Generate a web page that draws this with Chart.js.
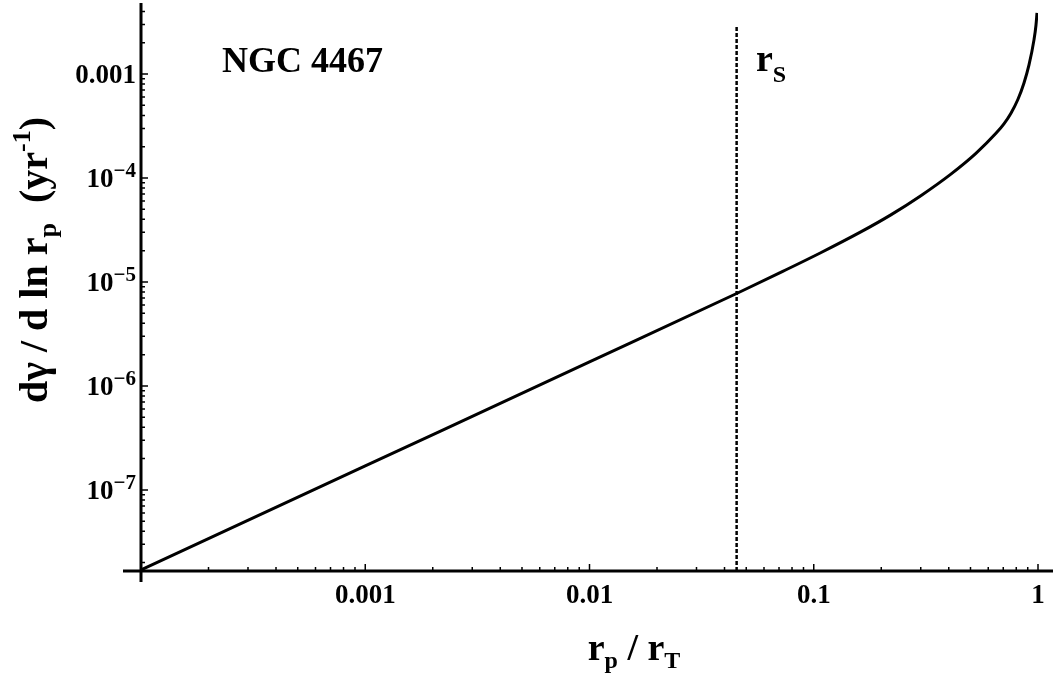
<!DOCTYPE html>
<html>
<head>
<meta charset="utf-8">
<script src="https://cdn.jsdelivr.net/npm/chart.js@4"></script>
<style>
  html, body { margin: 0; padding: 0; background: #fff; }
  canvas { display: block; }
</style>
</head>
<body>
<canvas id="c" width="1053" height="679"></canvas>
<script>
// values
const rpOverRt = [1e-4, 1e-3, 0.01, 0.0458, 0.0712, 0.1074, 0.1621, 0.2207, 0.3003, 0.4089, 0.5286, 0.6494, 0.7049, 0.7576, 0.8141, 0.866, 0.9117, 0.9596, 0.9797, 0.9897];
const dGammaDlnRp = [1.7e-8, 1.7e-7, 1.7e-6, 7.83e-6, 1.236e-5, 1.91e-5, 3.03e-5, 4.42e-5, 6.76e-5, 1.09e-4, 1.726e-4, 2.69e-4, 3.32e-4, 4.20e-4, 5.72e-4, 8.21e-4, 1.223e-3, 2.13e-3, 2.96e-3, 3.87e-3];

// r_S marker (vertical dotted line)
const rsX = [0.0453, 0.0453];
const rsY = [1.66e-8, 2.83e-3];

const xRange = [1e-4, 1];
const yRange = [1.66e-8, 4.82e-3];

const xTickValues = [0.001, 0.01, 0.1, 1];
const xTickLabels = ['0.001', '0.01', '0.1', '1'];
const yTickValues = [1e-3, 1e-4, 1e-5, 1e-6, 1e-7];
const yTickLabels = [['0.001', ''], ['10', '\u22124'], ['10', '\u22125'], ['10', '\u22126'], ['10', '\u22127']];

const FONT = '"Liberation Serif", "Times New Roman", serif';

function font(size) { return 'bold ' + size + 'px ' + FONT; }

// text runs [{t, size, dy}] for sub/superscripts
function richWidth(ctx, parts) {
    let w = 0;
    parts.forEach(p => { ctx.font = font(p.size); w += ctx.measureText(p.t).width; });
    return w;
}
function drawRich(ctx, parts, x, y) {
    let cx = x;
    parts.forEach(p => {
        ctx.font = font(p.size);
        ctx.fillText(p.t, cx, y + (p.dy || 0));
        cx += ctx.measureText(p.t).width;
    });
}

function minorValues(lo, hi) {
    const out = [];
    for (let e = Math.floor(Math.log10(lo)); e <= Math.ceil(Math.log10(hi)); e++) {
        for (let m = 1; m <= 9; m++) {
            const v = m * Math.pow(10, e);
            if (v >= lo * 0.999 && v <= hi * 1.001) out.push({ v, major: m === 1 });
        }
    }
    return out;
}

const axesPlugin = {
    id: 'mathAxes',
    afterDatasetsDraw(chart) {
        const ctx = chart.ctx;
        const xs = chart.scales.x, ys = chart.scales.y;
        const a = chart.chartArea;
        const x0 = xs.getPixelForValue(xRange[0]);
        const y0 = ys.getPixelForValue(yRange[0]);
        ctx.save();
        ctx.strokeStyle = '#000';
        ctx.fillStyle = '#000';
        ctx.lineWidth = 3;
        ctx.lineCap = 'butt';

        // axis lines, crossing past each other
        ctx.beginPath();
        ctx.moveTo(x0 - 18, y0); ctx.lineTo(chart.width, y0);
        ctx.moveTo(x0, a.top); ctx.lineTo(x0, y0 + 11);
        ctx.stroke();

        // ticks (pointing into the plot)
        ctx.lineWidth = 1.5;
        ctx.beginPath();
        minorValues(xRange[0], xRange[1]).forEach(t => {
            const px = xs.getPixelForValue(t.v);
            if (px < x0 + 2) return;
            ctx.moveTo(px, y0);
            ctx.lineTo(px, y0 - (t.major ? 7 : 4));
        });
        minorValues(yRange[0], yRange[1]).forEach(t => {
            const py = ys.getPixelForValue(t.v);
            if (py > y0 - 2) return;
            ctx.moveTo(x0, py);
            ctx.lineTo(x0 + (t.major ? 7 : 4), py);
        });
        ctx.stroke();

        // x tick labels
        ctx.textBaseline = 'alphabetic';
        xTickValues.forEach((v, i) => {
            const px = xs.getPixelForValue(v);
            ctx.font = font(27);
            const w = ctx.measureText(xTickLabels[i]).width;
            ctx.fillText(xTickLabels[i], px - w / 2, y0 + 32);
        });

        // y tick labels
        yTickValues.forEach((v, i) => {
            const py = ys.getPixelForValue(v);
            const parts = [{ t: yTickLabels[i][0], size: 27 }];
            if (yTickLabels[i][1]) parts.push({ t: yTickLabels[i][1], size: 21, dy: -10 });
            const w = richWidth(ctx, parts);
            drawRich(ctx, parts, x0 - 5 - w, py + 9);
        });

        // x axis title
        const xt = [{ t: 'r', size: 38 }, { t: 'p', size: 24, dy: 8 }, { t: ' / r', size: 38 }, { t: 'T', size: 24, dy: 8 }];
        const xw = richWidth(ctx, xt);
        drawRich(ctx, xt, 634 - xw / 2, 660);

        // y axis title (rotated)
        const yt = [{ t: 'd\u03b3 / d ln r', size: 40 }, { t: 'p', size: 26, dy: 9 },
                    { t: '  (yr', size: 40 }, { t: '-1', size: 26, dy: -17 }, { t: ')', size: 40 }];
        const yw = richWidth(ctx, yt);
        ctx.save();
        ctx.translate(47, 260);
        ctx.rotate(-Math.PI / 2);
        drawRich(ctx, yt, -yw / 2, 0);
        ctx.restore();

        // annotations
        drawRich(ctx, [{ t: 'NGC 4467', size: 36 }], 222, 72);
        drawRich(ctx, [{ t: 'r', size: 38 }, { t: 'S', size: 24, dy: 11 }], 756, 71);

        ctx.restore();
    }
};

new Chart(document.getElementById('c'), {
    type: 'line',
    data: {
        datasets: [{
            data: rpOverRt.map((x, i) => ({ x, y: dGammaDlnRp[i] })),
            borderColor: '#000',
            borderWidth: 3,
            pointRadius: 0,
            fill: false,
            cubicInterpolationMode: 'monotone'
        }, {
            data: rsX.map((x, i) => ({ x, y: rsY[i] })),
            borderColor: '#000',
            borderWidth: 2.5,
            borderDash: [4, 2],
            pointRadius: 0,
            fill: false
        }]
    },
    options: {
        responsive: false,
        animation: false,
        layout: { padding: { left: 141, right: 15, top: 3, bottom: 108 } },
        scales: {
            x: { type: 'logarithmic', min: xRange[0], max: xRange[1], display: false },
            y: { type: 'logarithmic', min: yRange[0], max: yRange[1], display: false }
        },
        plugins: { legend: { display: false }, tooltip: { enabled: false } }
    },
    plugins: [axesPlugin]
});
</script>
</body>
</html>
